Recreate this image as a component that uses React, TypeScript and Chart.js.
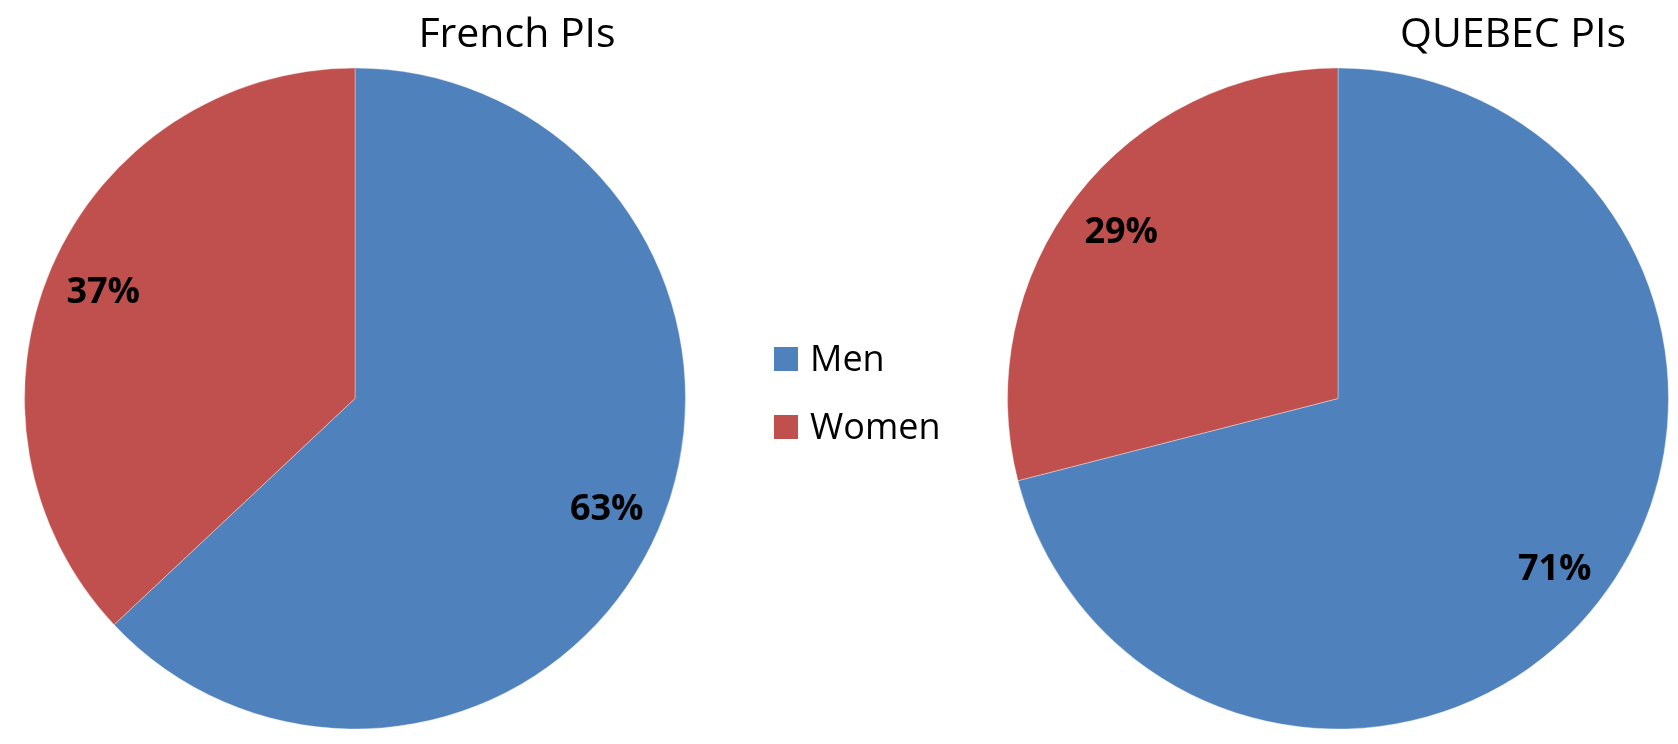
import React, { useEffect, useRef } from "react";
import { Chart, registerables } from "chart.js";

Chart.register(...registerables);

const categories = ["Men", "Women"];
const frenchValues = [63, 37];
const quebecValues = [71, 29];
const chartTitles = ["French PIs", "QUEBEC PIs"];
const sliceColors = ["#4F81BD", "#C0504D"];

const FONT = "'Open Sans', 'DejaVu Sans', sans-serif";

const pieLabelPlugin = {
  id: "pieLabels",
  afterDatasetsDraw(chart: any, _args: any, opts: any) {
    const ctx = chart.ctx;
    const meta = chart.getDatasetMeta(0);
    const data = chart.data.datasets[0].data as number[];
    const total = data.reduce((a, b) => a + b, 0);
    ctx.save();
    ctx.font = `bold 36px ${FONT}`;
    ctx.fillStyle = "#000000";
    ctx.textAlign = "center";
    ctx.textBaseline = "alphabetic";
    meta.data.forEach((arc: any, i: number) => {
      const p = arc.getProps(["x", "y", "startAngle", "endAngle", "outerRadius"], true);
      const mid = (p.startAngle + p.endAngle) / 2;
      const r = p.outerRadius * opts.ratio;
      const cx = p.x + Math.cos(mid) * r;
      const cy = p.y + Math.sin(mid) * r;
      ctx.fillText(Math.round((data[i] / total) * 100) + "%", cx, cy + 13);
    });
    ctx.restore();
  },
};

const titlePlugin = {
  id: "fixedTitle",
  afterDraw(chart: any, _args: any, opts: any) {
    const ctx = chart.ctx;
    ctx.save();
    ctx.font = `41px ${FONT}`;
    ctx.fillStyle = "#000000";
    ctx.textAlign = "center";
    ctx.textBaseline = "alphabetic";
    ctx.fillText(opts.text, opts.x, opts.y);
    ctx.restore();
  },
};

const sideLegendPlugin = {
  id: "sideLegend",
  afterDraw(chart: any, _args: any, opts: any) {
    if (!opts || !opts.show) return;
    const ctx = chart.ctx;
    const labels = chart.data.labels as string[];
    const colors = chart.data.datasets[0].backgroundColor as string[];
    ctx.save();
    ctx.font = `36px ${FONT}`;
    ctx.textAlign = "left";
    ctx.textBaseline = "alphabetic";
    labels.forEach((lab, i) => {
      const top = opts.y + i * opts.gap;
      ctx.fillStyle = colors[i];
      ctx.fillRect(opts.x, top, 24, 24);
      ctx.fillStyle = "#000000";
      ctx.fillText(lab, opts.x + 36, top + 24);
    });
    ctx.restore();
  },
};

function PieCanvas(props: {
  values: number[];
  title: string;
  width: number;
  left: number;
  padding: { left: number; right: number; top: number; bottom: number };
  titleX: number;
  legend?: { x: number; y: number; gap: number };
}) {
  const ref = useRef<HTMLCanvasElement | null>(null);
  useEffect(() => {
    if (!ref.current) return;
    const chart = new Chart(ref.current, {
      type: "pie",
      data: {
        labels: categories,
        datasets: [
          {
            data: props.values,
            backgroundColor: sliceColors,
            borderColor: "rgba(255,255,255,0.35)",
            borderWidth: 1,
          },
        ],
      },
      options: {
        responsive: false,
        animation: false,
        layout: { padding: props.padding },
        plugins: {
          legend: { display: false },
          tooltip: { enabled: false },
          title: { display: false },
          pieLabels: { ratio: 0.83 },
          fixedTitle: { text: props.title, x: props.titleX, y: 47 },
          sideLegend: props.legend ? { show: true, ...props.legend } : { show: false },
        } as any,
      },
      plugins: [pieLabelPlugin, titlePlugin, sideLegendPlugin],
    });
    return () => chart.destroy();
  }, []);
  return (
    <canvas
      ref={ref}
      width={props.width}
      height={744}
      style={{ position: "absolute", left: props.left, top: 0, width: props.width, height: 744 }}
    />
  );
}

export default function App() {
  return (
    <div
      style={{
        position: "fixed",
        left: 0,
        top: 0,
        width: 1678,
        height: 744,
        background: "#ffffff",
        overflow: "hidden",
      }}
    >
      <PieCanvas
        values={frenchValues}
        title={chartTitles[0]}
        width={1000}
        left={0}
        padding={{ left: 24, right: 314, top: 67, bottom: 14 }}
        titleX={517}
        legend={{ x: 774, y: 347, gap: 68 }}
      />
      <PieCanvas
        values={quebecValues}
        title={chartTitles[1]}
        width={678}
        left={1000}
        padding={{ left: 7, right: 9, top: 67, bottom: 14 }}
        titleX={513}
      />
    </div>
  );
}
